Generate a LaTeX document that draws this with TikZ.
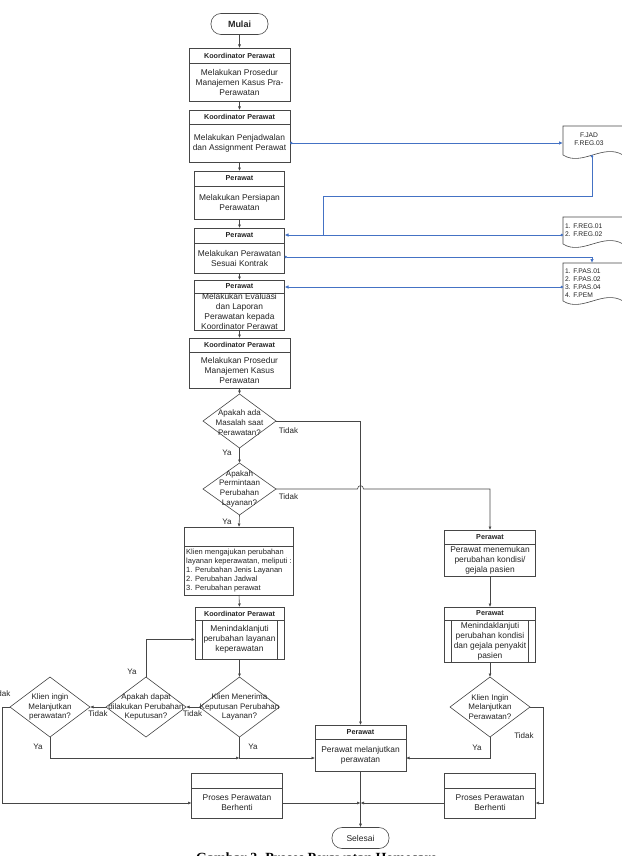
\documentclass[tikz,border=0pt]{standalone}
\usepackage{fontspec}
\setmainfont{Liberation Sans}
\newfontfamily\capfont{Liberation Serif}
\usetikzlibrary{shapes.geometric,arrows.meta,calc}
\definecolor{lnc}{RGB}{70,70,70}
\definecolor{txc}{RGB}{35,35,35}
\definecolor{blu}{RGB}{68,114,196}
\tikzset{
 fbox/.style={draw=lnc, line width=0.6pt, rectangle, inner sep=0pt, outer sep=0pt},
 fline/.style={draw=lnc, line width=0.6pt},
 hdr/.style={font=\bfseries\fontsize{7.2}{8}\selectfont, text=txc, inner sep=0pt},
 body/.style={font=\fontsize{8.4}{10}\selectfont, text=txc, align=center, inner sep=0pt},
 dia/.style={diamond, draw=lnc, line width=0.6pt, inner sep=0pt, outer sep=0pt},
 dtext/.style={font=\fontsize{8}{9.7}\selectfont, text=txc, align=center, inner sep=0pt},
 term/.style={draw=lnc, line width=0.6pt, rounded corners=10pt, minimum width=57pt, minimum height=21pt, inner sep=0pt, text=txc},
 arr/.style={draw=lnc, line width=0.6pt, -{Latex[length=3.5pt,width=3pt]}},
 plain/.style={draw=lnc, line width=0.6pt},
 barr/.style={draw=blu, line width=0.8pt, {Circle[length=2.4pt]}-{Latex[length=4pt,width=3.5pt]}},
 bline/.style={draw=blu, line width=0.8pt, {Circle[length=2.4pt]}-},
 lbl/.style={font=\fontsize{8}{9}\selectfont, text=txc, inner sep=0pt},
 docshape/.style={draw=lnc, line width=0.6pt},
 dtxt/.style={font=\fontsize{6.7}{8.1}\selectfont, text=txc, inner sep=0pt, align=left},
}
% #1 name, #2 cx, #3 top, #4 bottom, #5 width, #6 header height, #7 header, #8 body
\newcommand{\FBox}[8]{%
 \node[fbox, minimum width=#5pt, minimum height={(#4-#3)*1pt}] (#1) at (#2,{(#3+#4)/2}) {};
 \draw[fline] ([yshift=-#6pt]#1.north west) -- ([yshift=-#6pt]#1.north east);
 \node[hdr] (#1h) at ([yshift={-#6pt/2}]#1.north) {#7};
 \node[body] (#1t) at ($([yshift=-#6pt]#1.north)!0.5!(#1.south)$) {#8};
}
\newcommand{\DocShape}[2]{%
 \draw[docshape] (563,#2) -- (563,#1) -- (623,#1) -- (623,#2) .. controls (603,#2-12) and (582,#2+12) .. (563,#2);
}
\begin{document}
\begin{tikzpicture}[x=1pt,y=-1pt]
\useasboundingbox (0,0) rectangle (621,856);

% ---------- main column ----------
\node[term, font=\bfseries\fontsize{9}{10}\selectfont] (mulai) at (239.5,24) {Mulai};
\FBox{b1}{239.5}{48}{101}{101}{15}{Koordinator Perawat}{Melakukan Prosedur\\Manajemen Kasus Pra-\\Perawatan}
\FBox{b2}{239.5}{110}{162}{101}{14}{Koordinator Perawat}{Melakukan Penjadwalan\\dan Assignment Perawat}
\FBox{b3}{239.5}{171}{219}{90}{15}{Perawat}{Melakukan Persiapan\\Perawatan}
\FBox{b4}{239.5}{228}{273}{90}{15}{Perawat}{Melakukan Perawatan\\Sesuai Kontrak}
\FBox{b5}{239.5}{280}{330}{90}{13}{Perawat}{Melakukan Evaluasi\\dan Laporan\\Perawatan kepada\\Koordinator Perawat}
\FBox{b6}{239.5}{338}{388}{101}{14}{Koordinator Perawat}{Melakukan Prosedur\\Manajemen Kasus\\Perawatan}

\node[dia, minimum width=73pt, minimum height=54pt] (d1) at (239.5,421) {};
\node[dtext] at (239.5,422.5) {Apakah ada\\Masalah saat\\Perawatan?};
\node[dia, minimum width=73pt, minimum height=52pt] (d2) at (239.5,489) {};
\node[dtext] at (239.5,488.5) {Apakah\\Permintaan\\Perubahan\\Layanan?};

\FBox{b7}{239}{527}{595}{109}{19}{}{}
\node[font=\fontsize{7.5}{9}\selectfont, text=txc, inner sep=0pt, align=left, anchor=west] (b7x) at (186,571) {Klien mengajukan perubahan\\layanan keperawatan, meliputi :\\1. Perubahan Jenis Layanan\\2. Perubahan Jadwal\\3. Perubahan perawat};

\FBox{b8}{239.5}{607}{659}{89}{13}{Koordinator Perawat}{Menindaklanjuti\\perubahan layanan\\keperawatan}
\draw[fline] ([xshift=7pt,yshift=-13pt]b8.north west) -- ([xshift=7pt]b8.south west);
\draw[fline] ([xshift=-7pt,yshift=-13pt]b8.north east) -- ([xshift=-7pt]b8.south east);

\node[dia, minimum width=80pt, minimum height=60pt] (d3) at (239.5,707) {};
\node[dtext] at (239.5,707) {Klien Menerima\\Keputusan Perubahan\\Layanan?};
\node[dia, minimum width=80pt, minimum height=60pt] (d4) at (146,707) {};
\node[dtext] at (146,707) {Apakah dapat\\dilakukan Perubahan\\Keputusan?};
\node[dia, minimum width=80pt, minimum height=60pt] (d5) at (50,707) {};
\node[dtext] at (50,707) {Klien ingin\\Melanjutkan\\perawatan?};

\FBox{pb}{360.5}{725}{771}{91}{14}{Perawat}{Perawat melanjutkan\\perawatan}
\FBox{ppbl}{237}{773}{818}{91}{15}{}{Proses Perawatan\\Berhenti}
\FBox{ppbr}{490}{773}{818}{91}{15}{}{Proses Perawatan\\Berhenti}
\node[term, font=\fontsize{8.5}{10}\selectfont] (selesai) at (360.5,838) {Selesai};

% ---------- right column ----------
\FBox{r1}{490}{530}{576}{91}{14}{Perawat}{Perawat menemukan\\perubahan kondisi/\\gejala pasien}
\FBox{r2}{490}{607}{662}{91}{13}{Perawat}{Menindaklanjuti\\perubahan kondisi\\dan gejala penyakit\\pasien}
\draw[fline] ([xshift=7pt,yshift=-13pt]r2.north west) -- ([xshift=7pt]r2.south west);
\draw[fline] ([xshift=-7pt,yshift=-13pt]r2.north east) -- ([xshift=-7pt]r2.south east);
\node[dia, minimum width=80pt, minimum height=60pt] (d6) at (490,707) {};
\node[dtext] at (490,707) {Klien Ingin\\Melanjutkan\\Perawatan?};

% ---------- documents ----------
\DocShape{126}{155}
\node[dtxt, align=center] (doc1t) at (589,139) {F.JAD\\F.REG.03};
\DocShape{217}{244}
\node[dtxt, anchor=west] (doc2t) at (565,230.5) {1. F.REG.01\\2. F.REG.02};
\DocShape{263}{301}
\node[dtxt, anchor=west] (doc3t) at (565,283) {1. F.PAS.01\\2. F.PAS.02\\3. F.PAS.04\\4. F.PEM};
\coordinate (d1w) at (563,143);
\coordinate (d1s) at (592,155);
\coordinate (d2w) at (563,235);
\coordinate (d3n) at (592,263);
\coordinate (d3w) at (563,287);
\coordinate (jb) at (323,196);

% ---------- blue connectors ----------
\draw[barr] (b2.east |- d1w) -- (d1w);
\draw[bline] (d1s) |- (jb) -- (jb |- d2w);
\draw[barr] (d2w) -- (b4.east |- d2w);
\draw[barr] ([yshift=-6.5pt]b4.east) -| (d3n);
\draw[barr] (d3w) -- (b5.east |- d3w);

% ---------- main connectors ----------
\draw[arr] (mulai.south) -- (b1.north);
\draw[arr] (b1.south) -- (b2.north);
\draw[arr] (b2.south) -- (b3.north);
\draw[arr] (b3.south) -- (b4.north);
\draw[arr] (b4.south) -- (b5.north);
\draw[arr] (b5.south) -- (b6.north);
\draw[arr] (b6.south) -- (d1.north);
\draw[arr] (d1.south) -- (d2.north);
\draw[arr] (d2.south) -- (b7.north);
\draw[arr] (b7.south) -- (b8.north);
\draw[arr] (b8.south) -- (d3.north);
\draw[arr] (d3.west) -- (d4.east);
\draw[arr] (d4.west) -- (d5.east);
\draw[arr] (d4.north) |- (b8.west |- b8t);
\draw[arr] (d5.west) -- ++(-8,0) |- (ppbl.west |- ppblt);
\coordinate (jy) at (239.5,758);
\draw[arr] (d5.south) |- (jy);
\draw[arr] (d3.south) -- (jy) -- (pb.west |- jy);
\draw[arr] (d1.east) -| (pb.north);
\draw[arr] (d2.east) -- (357.5,489) .. controls (357.5,484.5) and (363.5,484.5) .. (363.5,489) -| (r1.north);
\draw[arr] (r1.south) -- (r2.north);
\draw[arr] (r2.south) -- (d6.north);
\draw[arr] (d6.south) |- (pb.east |- jy);
\draw[arr] (d6.east) -- ++(13,0) |- (ppbr.east |- ppbrt);
\draw[arr] (pb.south) -- (selesai.north);
\coordinate (jm) at (pb.south |- ppblt);
\draw[arr] (ppbl.east |- ppblt) -- (jm);
\draw[arr] (ppbr.west |- ppbrt) -- (jm);

% ---------- labels ----------
\node[lbl] at (288.5,431) {Tidak};
\node[lbl] at (288.5,497) {Tidak};
\node[lbl] at (227,453) {Ya};
\node[lbl] at (227,522) {Ya};
\node[lbl] at (192.5,714) {Tidak};
\node[lbl] at (98,714) {Tidak};
\node[lbl, anchor=east] at (10.5,694) {Tidak};
\node[lbl] at (132,672) {Ya};
\node[lbl] at (38,747) {Ya};
\node[lbl] at (253,747) {Ya};
\node[lbl] at (477,748) {Ya};
\node[lbl] at (524,736) {Tidak};

% ---------- caption (cut by the page edge, as in the reference) ----------
\node[anchor=base west, inner sep=0pt, font=\capfont\bfseries\fontsize{14}{16}\selectfont] (cap) at (196,862) {Gambar 3. Proses Perawatan Homecare};
\end{tikzpicture}
\end{document}
